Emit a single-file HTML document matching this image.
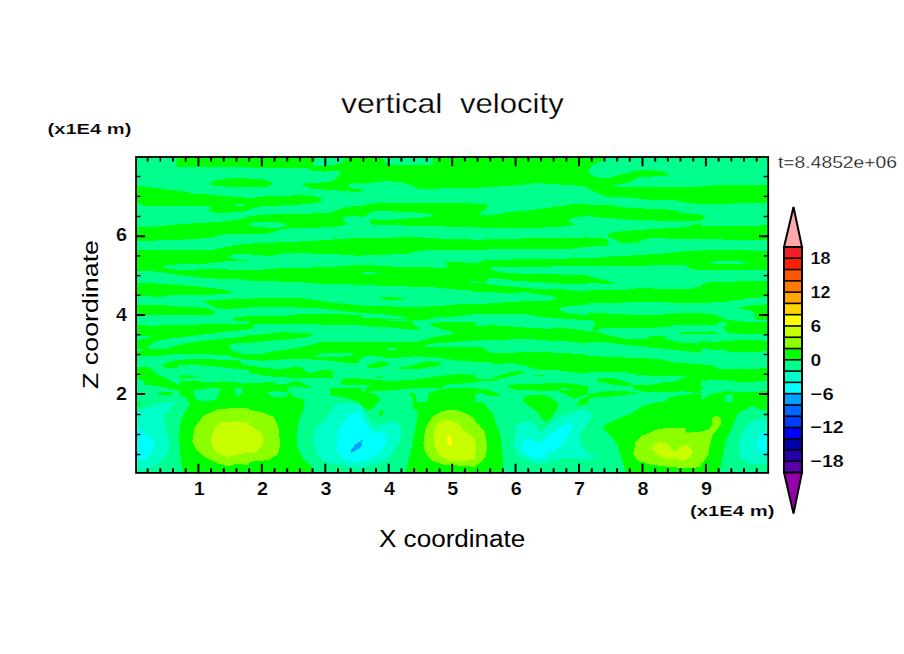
<!DOCTYPE html>
<html><head><meta charset="utf-8"><style>
html,body{margin:0;padding:0;background:#fff;width:904px;height:654px;overflow:hidden}
svg{display:block}
text{font-family:"Liberation Sans",sans-serif;fill:#000}
.lb{font-size:17px;font-weight:bold;stroke:#fff;stroke-width:0.2px}
.ax{font-size:18px;font-weight:bold;stroke:#fff;stroke-width:0.2px}
</style></head><body>
<svg width="904" height="654" viewBox="0 0 904 654">
<rect x="0" y="0" width="904" height="654" fill="#fff"/>
<g id="field">
<rect x="136" y="157" width="632" height="316" fill="#00ff8c"/>
<!--FIELD--><defs><clipPath id="cA"><rect x="137" y="158" width="112" height="80"/></clipPath><clipPath id="cB"><rect x="249" y="158" width="113" height="80"/></clipPath><clipPath id="cC"><rect x="362" y="158" width="113" height="80"/></clipPath><clipPath id="cD"><rect x="475" y="158" width="113" height="80"/></clipPath><clipPath id="cE"><rect x="588" y="158" width="113" height="80"/></clipPath><clipPath id="cF"><rect x="701" y="158" width="66.5" height="80"/></clipPath><clipPath id="cG"><rect x="137" y="238" width="112" height="82"/></clipPath><clipPath id="cH"><rect x="249" y="238" width="113" height="82"/></clipPath><clipPath id="cI"><rect x="362" y="238" width="113" height="82"/></clipPath><clipPath id="cJ"><rect x="475" y="238" width="113" height="82"/></clipPath><clipPath id="cK"><rect x="588" y="238" width="113" height="82"/></clipPath><clipPath id="cL"><rect x="701" y="238" width="66.5" height="82"/></clipPath><clipPath id="cM"><rect x="137" y="320" width="112" height="82"/></clipPath><clipPath id="cN"><rect x="249" y="320" width="113" height="82"/></clipPath><clipPath id="cO"><rect x="362" y="320" width="113" height="82"/></clipPath><clipPath id="cP"><rect x="475" y="320" width="113" height="82"/></clipPath><clipPath id="cQ"><rect x="588" y="320" width="113" height="82"/></clipPath><clipPath id="cR"><rect x="701" y="320" width="66.5" height="82"/></clipPath><clipPath id="cS"><rect x="137" y="402" width="112" height="70.5"/></clipPath><clipPath id="cT"><rect x="249" y="402" width="113" height="70.5"/></clipPath><clipPath id="cU"><rect x="362" y="402" width="113" height="70.5"/></clipPath><clipPath id="cV"><rect x="475" y="402" width="113" height="70.5"/></clipPath><clipPath id="cW"><rect x="588" y="402" width="113" height="70.5"/></clipPath><clipPath id="cX"><rect x="701" y="402" width="66.5" height="70.5"/></clipPath><clipPath id="cp1"><rect x="180" y="378" width="150" height="24"/></clipPath></defs>
<g clip-path="url(#cA)" shape-rendering="crispEdges"><rect x="137" y="158" width="112" height="80" fill="#00ff8c"/><g transform="translate(136,156) scale(0.125)"><polygon fill="#00ff00" points="330,15 320,70 330,92 600,90 910,92 910,-10 330,-10"/><polygon fill="#00ff00" points="590,215 620,200 700,185 780,175 910,178 910,250 800,248 660,240 600,230"/><polygon fill="#00ff00" points="-10,235 100,248 250,270 380,280 450,300 600,310 750,325 910,335 910,430 880,440 800,450 650,455 570,440 600,420 600,405 500,400 300,402 70,403 30,385 -10,365"/><polygon fill="#00ff8c" points="795,385 865,382 870,395 800,400"/><polygon fill="#00ff00" points="-10,565 150,565 300,550 450,540 600,530 750,520 850,500 910,485 910,620 700,628 560,660 -10,660"/></g></g>
<g clip-path="url(#cB)" shape-rendering="crispEdges"><rect x="249" y="158" width="113" height="80" fill="#00ff8c"/><g transform="translate(249,156) scale(0.125)"><polygon fill="#00ff00" points="-10,-10 910,-10 910,215 880,215 800,225 790,240 830,260 910,265 910,290 820,285 700,275 600,270 500,260 420,230 450,220 560,215 650,205 700,180 740,130 720,120 600,125 500,115 460,95 300,95 -10,95"/><polygon fill="#00ff8c" points="540,15 770,15 760,40 720,65 650,75 600,80 520,85 515,70"/><polygon fill="#00ff00" points="-10,180 100,185 160,200 195,220 160,240 100,250 -10,250"/><polygon fill="#00ff00" points="-10,340 100,325 250,320 430,312 520,318 570,335 590,350 560,370 450,385 300,395 120,400 -10,425"/><polygon fill="#00ff00" points="-10,485 100,470 300,462 500,460 650,455 750,415 850,400 910,400 910,485 800,480 745,495 760,530 790,545 700,565 500,575 300,580 240,590 200,605 150,620 -10,620"/><polygon fill="#00ff8c" points="-10,545 50,530 150,528 280,535 300,555 280,570 200,575 100,570 -10,560"/></g></g>
<g clip-path="url(#cC)" shape-rendering="crispEdges"><rect x="362" y="158" width="113" height="80" fill="#00ff00"/><g transform="translate(362,156) scale(0.125)"><polygon fill="#00ff8c" points="-10,225 100,210 200,200 300,210 400,235 450,260 620,260 800,255 910,255 910,380 600,378 300,375 100,378 30,390 -10,400"/><polygon fill="#00ff8c" points="170,15 565,15 565,75 350,75 220,70 190,55 170,30"/><polygon fill="#00ff8c" points="-10,485 30,485 50,460 100,440 300,445 500,455 580,475 530,490 400,495 200,515 80,505 60,530 100,555 300,555 500,560 700,565 910,565 910,660 -10,660"/><polygon fill="#00ff00" points="250,660 260,645 480,645 490,660"/></g></g>
<g clip-path="url(#cD)" shape-rendering="crispEdges"><rect x="475" y="158" width="113" height="80" fill="#00ff00"/><g transform="translate(475,156) scale(0.125)"><polygon fill="#00ff8c" points="-10,255 100,250 250,240 380,232 480,215 600,225 750,230 850,240 910,250 910,380 780,385 650,405 500,425 400,440 250,450 150,475 25,470 60,440 100,420 95,385 -10,380"/><polygon fill="#00ff8c" points="910,480 800,490 740,515 800,550 910,545"/><polygon fill="#00ff8c" points="-10,570 100,578 300,580 500,575 700,565 800,550 910,545 910,660 -10,660"/><polygon fill="#00ff00" points="870,660 875,645 910,645 910,660"/></g></g>
<g clip-path="url(#cE)" shape-rendering="crispEdges"><rect x="588" y="158" width="113" height="80" fill="#00ff00"/><g transform="translate(588,156) scale(0.125)"><polygon fill="#00ff8c" points="130,15 910,15 910,245 500,245 300,250 210,250 210,235 330,210 400,170 600,160 655,150 600,125 470,112 380,120 250,150 170,175 100,180 15,150 10,110 40,70 100,45"/><polygon fill="#00ff8c" points="-10,255 50,285 150,325 300,330 500,350 700,355 800,375 910,388 910,468 750,453 700,438 600,423 350,418 160,393 -10,390"/><polygon fill="#00ff8c" points="-10,478 100,493 380,513 630,518 910,518 910,538 830,553 800,568 480,586 250,603 165,620 160,660 -10,660"/></g></g>
<g clip-path="url(#cF)" shape-rendering="crispEdges"><rect x="701" y="158" width="66.5" height="80" fill="#00ff8c"/><g transform="translate(701,156) scale(0.125)"><polygon fill="#00ff00" points="-10,245 200,230 530,228 530,380 300,378 150,385 -10,388"/><polygon fill="#00ff00" points="-10,470 40,490 -10,515"/><polygon fill="#00ff00" points="-10,565 200,560 530,555 530,660 -10,660"/></g></g>
<g clip-path="url(#cG)" shape-rendering="crispEdges"><rect x="137" y="238" width="112" height="82" fill="#00ff8c"/><g transform="translate(136,238) scale(0.125)"><polygon fill="#00ff00" points="-10,-10 530,-10 520,5 450,10 300,15 170,20 -10,22"/><polygon fill="#00ff00" points="-10,100 200,98 400,100 600,98 700,75 800,55 910,45 910,125 780,130 745,150 780,170 885,180 910,180 700,188 600,200 500,212 350,210 210,222 230,240 330,255 600,250 910,255 910,335 800,330 650,325 500,315 300,290 180,270 100,265 -10,268"/><polygon fill="#00ff00" points="-10,360 200,365 350,375 500,390 700,410 780,440 700,450 500,455 300,455 200,470 -10,465"/><polygon fill="#00ff00" points="-10,535 250,538 350,550 550,558 610,575 630,600 610,618 400,615 -10,612"/><polygon fill="#00ff00" points="525,510 600,495 800,490 910,485 910,560 780,565 680,570 630,555 560,520"/><polygon fill="#00ff00" points="770,660 800,632 910,625 910,660"/></g></g>
<g clip-path="url(#cH)" shape-rendering="crispEdges"><rect x="249" y="238" width="113" height="82" fill="#00ff8c"/><g transform="translate(249,238) scale(0.125)"><polygon fill="#00ff00" points="-10,45 90,42 290,32 490,25 620,15 800,5 800,-10 910,-10 910,145 850,140 700,130 540,125 290,120 180,140 110,140 -10,130"/><polygon fill="#00ff00" points="-10,255 130,252 270,240 650,233 780,222 910,212 910,375 770,370 540,365 440,355 290,350 -10,340"/><polygon fill="#00ff00" points="-10,485 200,480 430,482 520,495 650,515 800,530 910,540 910,600 800,590 700,578 600,565 370,555 200,550 -10,555"/><polygon fill="#00ff00" points="-10,625 90,628 260,625 400,610 600,605 800,612 910,620 910,660 -10,660"/></g></g>
<g clip-path="url(#cI)" shape-rendering="crispEdges"><rect x="362" y="238" width="113" height="82" fill="#00ff00"/><g transform="translate(362,238) scale(0.125)"><polygon fill="#00ff8c" points="605,-10 910,-10 910,15 840,10 610,5"/><polygon fill="#00ff8c" points="-10,140 100,138 220,130 370,125 430,105 550,98 910,95 910,200 800,195 680,195 670,210 700,240 620,242 530,232 300,235 200,225 -10,215"/><polygon fill="#00ff8c" points="-10,270 70,272 160,288 120,292 -10,290"/><polygon fill="#00ff8c" points="-10,375 250,385 550,392 630,400 850,420 910,428 910,525 780,528 620,545 400,552 140,545 -10,540"/><polygon fill="#00ff00" points="135,480 180,470 270,475 330,485 320,492 180,492"/><polygon fill="#00ff8c" points="860,345 910,340 910,365 880,360"/><polygon fill="#00ff8c" points="-10,600 150,608 250,620 350,632 360,645 200,645 -10,640"/><polygon fill="#00ff8c" points="480,660 600,635 780,625 910,605 910,660"/></g></g>
<g clip-path="url(#cJ)" shape-rendering="crispEdges"><rect x="475" y="238" width="113" height="82" fill="#00ff00"/><g transform="translate(475,238) scale(0.125)"><polygon fill="#00ff8c" points="-10,-10 460,-10 460,2 200,8 -10,15"/><polygon fill="#00ff8c" points="-10,95 180,90 500,88 780,85 870,72 910,70 910,160 870,160 700,165 415,168 200,175 70,178 30,195 -10,200"/><polygon fill="#00ff8c" points="120,242 150,232 300,235 420,233 600,228 820,225 910,220 910,300 870,298 670,292 360,285 210,275 150,260"/><polygon fill="#00ff8c" points="-10,345 30,352 60,355 -10,365"/><polygon fill="#00ff8c" points="70,355 120,320 200,325 300,340 460,350 600,360 780,370 910,372 910,420 790,420 700,410 460,405 360,395 200,380 110,370"/><polygon fill="#00ff8c" points="-10,430 100,432 250,440 400,435 500,450 600,460 660,480 600,500 530,505 400,505 230,515 100,525 30,530 -10,530"/><polygon fill="#00ff8c" points="670,570 700,550 820,540 910,530 910,615 790,610 720,600"/><polygon fill="#00ff8c" points="-10,612 384,607 512,629 598,639 704,645 852,655 910,660 -10,660"/></g></g>
<g clip-path="url(#cK)" shape-rendering="crispEdges"><rect x="588" y="238" width="113" height="82" fill="#00ff8c"/><g transform="translate(588,238) scale(0.125)"><polygon fill="#00ff00" points="-10,-10 120,-10 160,20 165,50 140,60 50,65 -10,72"/><polygon fill="#00ff00" points="200,-10 500,-10 490,5 430,15 400,38 270,38 230,20 205,5"/><polygon fill="#00ff00" points="630,-10 910,-10 910,8 630,8"/><polygon fill="#00ff00" points="-10,160 120,155 200,145 420,138 500,130 650,120 720,112 800,102 910,100 910,255 830,250 790,230 780,215 680,215 500,220 -10,222"/><polygon fill="#00ff00" points="-10,300 40,315 140,340 200,360 190,372 120,370 60,360 -10,355"/><polygon fill="#00ff00" points="-10,420 270,418 380,405 420,398 500,400 550,410 830,408 855,392 910,390 910,520 780,518 400,512 170,520 -10,520"/><polygon fill="#00ff00" points="-10,605 100,600 170,605 300,610 350,620 550,618 650,605 910,600 910,660 -10,660"/></g></g>
<g clip-path="url(#cL)" shape-rendering="crispEdges"><rect x="701" y="238" width="66.5" height="82" fill="#00ff8c"/><g transform="translate(701,238) scale(0.125)"><polygon fill="#00ff00" points="-10,-10 530,-10 530,15 180,12 -10,8"/><polygon fill="#00ff00" points="-10,95 200,98 380,100 530,105 530,255 -10,255"/><polygon fill="#00ff8c" points="60,195 150,180 330,185 380,195 330,205 100,205"/><polygon fill="#00ff00" points="-10,380 50,355 200,350 400,345 530,340 530,470 400,478 300,495 200,510 -10,520"/><polygon fill="#00ff00" points="310,555 400,540 530,530 530,660 440,660 430,600 380,575 320,570"/><polygon fill="#00ff00" points="-10,600 100,610 180,640 210,660 -10,660"/></g></g>
<g clip-path="url(#cM)" shape-rendering="crispEdges"><rect x="137" y="320" width="112" height="82" fill="#00ff8c"/><g transform="translate(136,320) scale(0.125)"><polygon fill="#00ff00" points="-10,40 120,45 400,40 600,32 800,35 910,35 910,75 860,80 700,95 500,120 300,145 150,170 95,215 110,235 220,235 340,200 500,170 700,150 860,135 910,115 910,185 850,185 760,190 740,215 770,245 850,270 910,280 910,320 800,305 750,285 600,275 350,270 200,285 -10,290 -10,255 40,250 50,236 -10,232 -10,160 90,150 110,130 -10,120"/><polygon fill="#00ff00" points="775,-10 910,-10 910,8 790,5"/><polygon fill="#00ff00" points="210,355 300,325 400,315 600,315 800,320 830,330 850,360 910,365 910,400 800,390 600,370 450,355 345,360 330,385 240,385"/><polygon fill="#00ff00" points="-10,375 100,375 180,440 280,490 380,540 450,570 500,610 520,660 470,660 430,580 300,560 160,525 60,520 60,480 -10,470"/><polygon fill="#00ff00" points="345,455 380,440 500,460 600,470 700,475 800,495 780,520 650,540 600,570 560,580 500,560 420,520 350,480"/><polygon fill="#00ff00" points="600,660 650,560 700,550 760,620 800,560 850,560 910,540 910,660"/><polygon fill="#00ff00" points="180,580 280,575 290,600 180,600"/></g></g>
<g clip-path="url(#cN)" shape-rendering="crispEdges"><rect x="249" y="320" width="113" height="82" fill="#00ff8c"/><g transform="translate(249,320) scale(0.125)"><polygon fill="#00ff00" points="-10,-10 910,-10 910,40 490,35 60,30 30,28 50,55 -10,75"/><polygon fill="#00ff00" points="-10,120 110,115 270,98 480,105 510,125 450,140 300,155 120,170 -10,185"/><polygon fill="#00ff00" points="-10,270 90,272 200,250 400,220 570,180 700,175 910,175 910,300 880,310 880,345 800,345 650,325 500,315 300,312 120,325 -10,320"/><polygon fill="#00ff8c" points="520,290 600,262 800,262 845,275 800,290 700,295 600,300"/><polygon fill="#00ff00" points="-10,360 60,375 240,395 350,378 420,380 470,430 600,395 690,410 660,440 680,460 580,500 540,520 500,560 490,600 420,590 400,550 430,520 480,465 300,460 150,450 50,430 -10,425"/><polygon fill="#00ff00" points="-10,500 100,510 150,540 250,520 290,530 300,560 230,580 130,590 -10,560"/><polygon fill="#00ff00" points="-10,580 130,585 230,600 260,660 -10,660"/><polygon fill="#00ff00" points="230,660 320,560 370,560 440,660"/><polygon fill="#00ff00" points="730,480 800,465 910,470 910,520 760,520 740,510"/><polygon fill="#00ff00" points="600,570 650,545 910,540 910,660 880,660 800,630 650,600"/></g></g>
<g clip-path="url(#cO)" shape-rendering="crispEdges"><rect x="362" y="320" width="113" height="82" fill="#00ff8c"/><g transform="translate(362,320) scale(0.125)"><polygon fill="#00ff00" points="-10,-10 200,-10 210,5 420,10 410,40 450,55 455,78 400,78 300,68 200,55 -10,50"/><polygon fill="#00ff00" points="-10,175 430,175 500,160 600,130 700,118 735,108 700,90 600,62 545,45 560,25 640,18 910,20 910,165 800,170 700,180 590,185 500,200 490,212 600,215 800,218 910,215 910,335 800,328 600,300 420,290 300,300 200,305 100,285 -10,295"/><polygon fill="#00ff8c" points="190,235 220,225 300,225 250,240 200,245"/><polygon fill="#00ff00" points="40,360 100,345 150,328 210,345 215,360 130,385 50,380"/><polygon fill="#00ff00" points="280,385 420,360 520,330 640,340 600,370 420,395 300,395"/><polygon fill="#00ff00" points="100,455 150,450 160,460 100,462"/><polygon fill="#00ff00" points="-10,470 80,475 230,490 400,478 610,450 770,430 910,445 910,505 850,505 680,515 640,540 450,545 250,560 100,570 25,575 20,550 70,520 -10,520"/><polygon fill="#00ff00" points="-10,570 100,590 150,630 140,660 -10,660"/><polygon fill="#00ff00" points="520,660 530,590 600,560 700,545 850,545 910,540 910,660"/><polygon fill="#00ff00" points="380,600 400,580 430,600 440,660 410,660 400,620"/></g></g>
<g clip-path="url(#cP)" shape-rendering="crispEdges"><rect x="475" y="320" width="113" height="82" fill="#00ff8c"/><g transform="translate(475,320) scale(0.125)"><polygon fill="#00ff00" points="-10,50 80,45 130,40 400,60 570,70 700,65 860,80 910,95 910,185 850,185 740,170 600,165 460,155 300,155 -10,165"/><polygon fill="#00ff00" points="-10,215 50,215 130,262 290,268 360,255 700,262 850,275 910,278 910,420 800,420 640,400 480,395 420,370 300,345 160,355 130,340 -10,335"/><polygon fill="#00ff00" points="-10,455 30,468 130,470 170,450 290,415 380,405 390,420 330,440 200,470 130,490 30,492 -10,495"/><polygon fill="#00ff00" points="455,450 500,438 565,440 520,452"/><polygon fill="#00ff00" points="255,525 340,512 550,510 600,500 800,510 910,535 910,590 800,630 700,585 660,560 600,570 300,555"/><polygon fill="#00ff8c" points="670,555 720,545 770,555 720,565"/><polygon fill="#00ff00" points="-10,545 40,550 100,560 170,580 200,605 100,605 50,580 -10,600"/><polygon fill="#00ff00" points="380,660 390,620 430,600 550,598 620,630 660,660"/><polygon fill="#00ff00" points="820,660 850,630 910,610 910,660"/></g></g>
<g clip-path="url(#cQ)" shape-rendering="crispEdges"><rect x="588" y="320" width="113" height="82" fill="#00ff8c"/><g transform="translate(588,320) scale(0.125)"><polygon fill="#00ff00" points="35,-10 910,-10 910,38 700,40 630,55 440,68 320,65 120,65 50,90 35,95 40,60 60,40"/><polygon fill="#00ff00" points="-10,95 50,90 100,105 200,130 320,155 450,150 530,125 610,125 620,150 730,180 910,180 910,262 800,250 700,240 500,220 280,195 120,178 -10,180"/><polygon fill="#00ff00" points="730,105 770,95 910,100 910,115 760,115"/><polygon fill="#00ff00" points="-10,285 150,295 300,300 540,310 700,340 910,355 910,495 880,500 830,480 780,450 700,445 500,445 400,440 300,420 150,415 -10,415"/><polygon fill="#00ff00" points="70,475 130,462 220,470 350,510 340,530 220,520 80,495"/><polygon fill="#00ff00" points="350,520 500,520 600,500 700,490 780,455 830,480 880,500 910,495 910,590 750,570 600,580 450,575 370,555"/><polygon fill="#00ff00" points="-10,600 100,575 250,565 400,580 300,600 150,615 40,620 -10,640"/><polygon fill="#00ff00" points="600,660 650,620 750,600 880,590 910,590 910,660"/></g></g>
<g clip-path="url(#cR)" shape-rendering="crispEdges"><rect x="701" y="320" width="66.5" height="82" fill="#00ff8c"/><g transform="translate(701,320) scale(0.125)"><polygon fill="#00ff00" points="-10,-10 216,-10 216,0 380,18 530,20 530,110 400,112 209,105 180,60 209,38 209,13 150,13 130,38 -10,38"/><polygon fill="#00ff00" points="-10,96 124,96 135,104 124,112 -10,112"/><polygon fill="#00ff00" points="-10,165 100,175 300,160 530,165 530,250 300,260 200,250 170,235 100,240 30,225 -10,240"/><polygon fill="#00ff00" points="-10,360 100,365 140,395 300,395 530,385 530,490 300,495 200,480 100,480 -10,490"/><polygon fill="#00ff00" points="-10,540 40,535 -10,555"/><polygon fill="#00ff00" points="40,620 80,590 200,570 400,580 530,565 530,660 -10,660 -10,640"/><polygon fill="#00ff8c" points="190,600 250,595 260,660 200,660"/></g></g>
<g clip-path="url(#cS)" shape-rendering="crispEdges"><rect x="137" y="402" width="112" height="70.5" fill="#00ff8c"/><g transform="translate(136,402) scale(0.125)"><polygon fill="#00ffc8" points="-10,65 40,60 110,35 200,15 270,-5 300,-10 300,20 260,70 225,110 240,200 270,310 260,400 210,470 150,510 70,540 -10,548"/><polygon fill="#00ffff" points="-10,195 50,240 120,280 150,330 130,400 90,450 30,460 -10,465"/><polygon fill="#00ff00" points="440,-10 910,-10 910,560 375,560 350,400 345,250 360,140 400,70"/><polygon fill="#00ff00" points="-10,-10 30,-10 30,20 -10,30"/><polygon fill="#8cff00" points="450,320 470,200 540,110 650,60 800,45 910,50 910,505 800,495 740,515 650,490 550,440 480,380"/><polygon fill="#c8ff00" points="600,310 630,200 690,160 800,155 910,160 910,400 800,425 730,440 650,410 610,360"/></g></g>
<g clip-path="url(#cT)" shape-rendering="crispEdges"><rect x="249" y="402" width="113" height="70.5" fill="#00ff00"/><g transform="translate(249,402) scale(0.125)"><polygon fill="#8cff00" points="-10,60 100,80 200,120 235,200 250,340 230,420 150,465 -10,480"/><polygon fill="#c8ff00" points="-10,175 60,220 110,270 110,340 60,400 -10,415"/><polygon fill="#00ff8c" points="440,-10 910,-10 910,560 520,560 500,520 430,450 390,370 380,260 400,150 440,50"/><polygon fill="#00ff00" points="880,-10 910,-10 910,25 890,20"/><polygon fill="#00ffc8" points="510,300 540,200 600,150 650,80 700,15 800,10 910,25 910,525 800,520 700,500 600,480 550,430"/><polygon fill="#00ffff" points="700,330 720,200 800,100 850,80 910,75 910,475 830,485 760,460 710,400"/><polygon fill="#00a0ff" points="815,380 850,340 910,300 910,345 860,385 820,405"/></g></g>
<g clip-path="url(#cU)" shape-rendering="crispEdges"><rect x="362" y="402" width="113" height="70.5" fill="#00ff00"/><g transform="translate(362,402) scale(0.125)"><polygon fill="#00ff8c" points="-10,30 60,70 100,40 130,-10 410,-10 400,30 445,80 440,150 420,250 400,350 375,450 350,560 -10,560"/><polygon fill="#00ff00" points="135,80 160,65 175,80 160,115 135,110"/><polygon fill="#00ffc8" points="-10,40 30,90 60,140 100,190 180,170 240,150 300,180 320,240 300,320 250,400 200,460 100,500 -10,520"/><polygon fill="#00ffff" points="-10,120 40,190 100,250 170,240 205,270 200,330 150,400 80,450 -10,470"/><polygon fill="#00a0ff" points="-10,300 10,305 -10,340"/><polygon fill="#8cff00" points="490,330 510,200 570,110 650,70 750,60 850,100 910,140 910,520 800,510 650,500 560,470 510,420"/><polygon fill="#c8ff00" points="575,250 600,170 660,140 760,165 820,230 910,300 910,450 800,475 700,470 620,430 580,350"/><polygon fill="#ffff00" points="680,280 700,265 720,300 725,350 700,355 680,330"/></g></g>
<g clip-path="url(#cV)" shape-rendering="crispEdges"><rect x="475" y="402" width="113" height="70.5" fill="#00ff8c"/><g transform="translate(475,402) scale(0.125)"><polygon fill="#00ff00" points="-10,-10 50,-10 140,90 160,150 200,250 215,350 230,560 -10,560"/><polygon fill="#8cff00" points="-10,150 30,180 80,240 95,330 90,430 50,480 -10,520"/><polygon fill="#c8ff00" points="-10,330 10,340 10,400 -10,410"/><polygon fill="#00ff00" points="380,-10 660,-10 660,50 620,110 570,160 540,140 500,80 430,30"/><polygon fill="#00ff00" points="810,20 830,-10 910,-10 910,10 850,25"/><polygon fill="#00ffc8" points="306,350 328,191 360,164 444,154 487,180 508,244 550,222 678,117 816,74 838,63 890,63 922,106 901,170 848,244 838,308 858,361 922,414 922,460 731,446 518,499 359,446"/><polygon fill="#00ffff" points="370,350 391,308 444,292 508,339 604,254 678,202 774,159 774,222 731,308 646,382 562,414 572,446 466,446 391,403"/></g></g>
<g clip-path="url(#cW)" shape-rendering="crispEdges"><rect x="588" y="402" width="113" height="70.5" fill="#00ff8c"/><g transform="translate(588,402) scale(0.125)"><polygon fill="#00ff00" points="580,-10 910,-10 910,560 300,560 270,450 230,330 180,270 115,210 150,170 250,130 350,90 430,35 530,10"/><polygon fill="#8cff00" points="360,420 380,320 430,270 550,220 650,205 780,210 790,245 910,238 910,520 800,530 650,520 500,500 400,470"/><polygon fill="#c8ff00" points="510,370 540,330 590,318 650,350 690,405 740,350 800,345 840,390 820,440 760,475 700,450 650,460 560,430"/><polygon fill="#00ffc8" points="-10,70 20,90 20,130 -10,150"/><polygon fill="#00ffc8" points="-10,420 60,440 50,455 -10,450"/></g></g>
<g clip-path="url(#cX)" shape-rendering="crispEdges"><rect x="701" y="402" width="66.5" height="70.5" fill="#00ff00"/><g transform="translate(701,402) scale(0.125)"><polygon fill="#8cff00" points="-10,240 60,220 90,180 90,130 120,110 160,130 165,170 130,220 90,270 70,350 60,420 20,480 -10,500"/><polygon fill="#00ff8c" points="150,560 170,450 200,300 240,220 290,100 350,60 420,30 470,60 530,70 530,560"/><polygon fill="#00ffc8" points="300,400 310,300 350,200 400,160 500,130 530,130 530,500 400,495 320,460"/><polygon fill="#00ffff" points="440,340 460,280 500,240 530,230 530,420 480,400 450,380"/></g></g>
<g clip-path="url(#cp1)" shape-rendering="crispEdges"><rect x="180" y="378" width="150" height="24" fill="#00ff00"/><g transform="translate(180,378) scale(0.165929)"><polygon fill="#00ff8c" points="0,-5 904,-5 904,60 870,70 790,60 740,30 700,20 640,35 600,40 550,25 450,30 370,35 345,25 260,20 170,28 110,20 50,15 0,20"/><polygon fill="#00ff8c" points="80,70 120,75 170,60 240,62 235,100 215,130 180,140 120,140 90,120"/><polygon fill="#00ff8c" points="330,60 370,60 380,85 350,110 330,90"/><polygon fill="#00ff8c" points="520,85 580,80 650,85 640,115 560,115"/><polygon fill="#00ff8c" points="640,60 700,50 760,60 750,130 700,120 660,90"/><polygon fill="#00ff8c" points="760,60 790,60 870,70 904,60 904,150 750,150 750,130"/><polygon fill="#00ff8c" points="-5,110 40,115 40,150 -5,150"/></g></g><!--/FIELD-->
</g>
<g stroke="#000" stroke-width="1.8" fill="none">
<rect x="136.05" y="157" width="632.15" height="315.9"/>
<g stroke-width="1.4"><line x1="136" y1="454.5" x2="140.60" y2="454.5"/>
<line x1="768.2" y1="454.5" x2="763.60" y2="454.5"/>
<line x1="136" y1="434.5" x2="140.60" y2="434.5"/>
<line x1="768.2" y1="434.5" x2="763.60" y2="434.5"/>
<line x1="136" y1="414.5" x2="140.60" y2="414.5"/>
<line x1="768.2" y1="414.5" x2="763.60" y2="414.5"/>
<line x1="136" y1="394.0" x2="145.20" y2="394.0" stroke-width="2"/>
<line x1="768.2" y1="394.0" x2="759.00" y2="394.0" stroke-width="2"/>
<line x1="136" y1="374.25" x2="140.60" y2="374.25"/>
<line x1="768.2" y1="374.25" x2="763.60" y2="374.25"/>
<line x1="136" y1="354.5" x2="140.60" y2="354.5"/>
<line x1="768.2" y1="354.5" x2="763.60" y2="354.5"/>
<line x1="136" y1="334.75" x2="140.60" y2="334.75"/>
<line x1="768.2" y1="334.75" x2="763.60" y2="334.75"/>
<line x1="136" y1="315.0" x2="145.20" y2="315.0" stroke-width="2"/>
<line x1="768.2" y1="315.0" x2="759.00" y2="315.0" stroke-width="2"/>
<line x1="136" y1="295.3" x2="140.60" y2="295.3"/>
<line x1="768.2" y1="295.3" x2="763.60" y2="295.3"/>
<line x1="136" y1="275.6" x2="140.60" y2="275.6"/>
<line x1="768.2" y1="275.6" x2="763.60" y2="275.6"/>
<line x1="136" y1="255.9" x2="140.60" y2="255.9"/>
<line x1="768.2" y1="255.9" x2="763.60" y2="255.9"/>
<line x1="136" y1="236.25" x2="145.20" y2="236.25" stroke-width="2"/>
<line x1="768.2" y1="236.25" x2="759.00" y2="236.25" stroke-width="2"/>
<line x1="136" y1="216.5" x2="140.60" y2="216.5"/>
<line x1="768.2" y1="216.5" x2="763.60" y2="216.5"/>
<line x1="136" y1="196.4" x2="140.60" y2="196.4"/>
<line x1="768.2" y1="196.4" x2="763.60" y2="196.4"/>
<line x1="136" y1="176.5" x2="140.60" y2="176.5"/>
<line x1="768.2" y1="176.5" x2="763.60" y2="176.5"/>
<line x1="147.65" y1="472.9" x2="147.65" y2="468.30" stroke-width="2"/>
<line x1="147.65" y1="157" x2="147.65" y2="161.60" stroke-width="2"/>
<line x1="160.34" y1="472.9" x2="160.34" y2="468.30" stroke-width="2"/>
<line x1="160.34" y1="157" x2="160.34" y2="161.60"/>
<line x1="173.02" y1="472.9" x2="173.02" y2="468.30" stroke-width="2"/>
<line x1="173.02" y1="157" x2="173.02" y2="161.60" stroke-width="2"/>
<line x1="185.71" y1="472.9" x2="185.71" y2="468.30" stroke-width="2"/>
<line x1="185.71" y1="157" x2="185.71" y2="161.60" stroke-width="2"/>
<line x1="198.40" y1="472.9" x2="198.40" y2="463.70" stroke-width="2"/>
<line x1="198.40" y1="157" x2="198.40" y2="166.20" stroke-width="2"/>
<line x1="211.09" y1="472.9" x2="211.09" y2="468.30" stroke-width="2"/>
<line x1="211.09" y1="157" x2="211.09" y2="161.60" stroke-width="2"/>
<line x1="223.78" y1="472.9" x2="223.78" y2="468.30" stroke-width="2"/>
<line x1="223.78" y1="157" x2="223.78" y2="161.60" stroke-width="2"/>
<line x1="236.46" y1="472.9" x2="236.46" y2="468.30" stroke-width="2"/>
<line x1="236.46" y1="157" x2="236.46" y2="161.60" stroke-width="2"/>
<line x1="249.15" y1="472.9" x2="249.15" y2="468.30" stroke-width="2"/>
<line x1="249.15" y1="157" x2="249.15" y2="161.60" stroke-width="2"/>
<line x1="261.84" y1="472.9" x2="261.84" y2="463.70" stroke-width="2"/>
<line x1="261.84" y1="157" x2="261.84" y2="166.20" stroke-width="2"/>
<line x1="274.53" y1="472.9" x2="274.53" y2="468.30" stroke-width="2"/>
<line x1="274.53" y1="157" x2="274.53" y2="161.60" stroke-width="2"/>
<line x1="287.22" y1="472.9" x2="287.22" y2="468.30" stroke-width="2"/>
<line x1="287.22" y1="157" x2="287.22" y2="161.60" stroke-width="2"/>
<line x1="299.90" y1="472.9" x2="299.90" y2="468.30" stroke-width="2"/>
<line x1="299.90" y1="157" x2="299.90" y2="161.60" stroke-width="2"/>
<line x1="312.59" y1="472.9" x2="312.59" y2="468.30" stroke-width="2"/>
<line x1="312.59" y1="157" x2="312.59" y2="161.60" stroke-width="2"/>
<line x1="325.28" y1="472.9" x2="325.28" y2="463.70" stroke-width="2"/>
<line x1="325.28" y1="157" x2="325.28" y2="166.20" stroke-width="2"/>
<line x1="337.97" y1="472.9" x2="337.97" y2="468.30" stroke-width="2"/>
<line x1="337.97" y1="157" x2="337.97" y2="161.60" stroke-width="2"/>
<line x1="350.66" y1="472.9" x2="350.66" y2="468.30" stroke-width="2"/>
<line x1="350.66" y1="157" x2="350.66" y2="161.60" stroke-width="2"/>
<line x1="363.34" y1="472.9" x2="363.34" y2="468.30" stroke-width="2"/>
<line x1="363.34" y1="157" x2="363.34" y2="161.60" stroke-width="2"/>
<line x1="376.03" y1="472.9" x2="376.03" y2="468.30" stroke-width="2"/>
<line x1="376.03" y1="157" x2="376.03" y2="161.60" stroke-width="2"/>
<line x1="388.72" y1="472.9" x2="388.72" y2="463.70" stroke-width="2"/>
<line x1="388.72" y1="157" x2="388.72" y2="166.20" stroke-width="2"/>
<line x1="401.41" y1="472.9" x2="401.41" y2="468.30" stroke-width="2"/>
<line x1="401.41" y1="157" x2="401.41" y2="161.60" stroke-width="2"/>
<line x1="414.10" y1="472.9" x2="414.10" y2="468.30" stroke-width="2"/>
<line x1="414.10" y1="157" x2="414.10" y2="161.60" stroke-width="2"/>
<line x1="426.78" y1="472.9" x2="426.78" y2="468.30" stroke-width="2"/>
<line x1="426.78" y1="157" x2="426.78" y2="161.60" stroke-width="2"/>
<line x1="439.47" y1="472.9" x2="439.47" y2="468.30" stroke-width="2"/>
<line x1="439.47" y1="157" x2="439.47" y2="161.60" stroke-width="2"/>
<line x1="452.16" y1="472.9" x2="452.16" y2="463.70" stroke-width="2"/>
<line x1="452.16" y1="157" x2="452.16" y2="166.20" stroke-width="2"/>
<line x1="464.85" y1="472.9" x2="464.85" y2="468.30" stroke-width="2"/>
<line x1="464.85" y1="157" x2="464.85" y2="161.60" stroke-width="2"/>
<line x1="477.54" y1="472.9" x2="477.54" y2="468.30"/>
<line x1="477.54" y1="157" x2="477.54" y2="161.60" stroke-width="2"/>
<line x1="490.22" y1="472.9" x2="490.22" y2="468.30" stroke-width="2"/>
<line x1="490.22" y1="157" x2="490.22" y2="161.60" stroke-width="2"/>
<line x1="502.91" y1="472.9" x2="502.91" y2="468.30" stroke-width="2"/>
<line x1="502.91" y1="157" x2="502.91" y2="161.60" stroke-width="2"/>
<line x1="515.60" y1="472.9" x2="515.60" y2="463.70" stroke-width="2"/>
<line x1="515.60" y1="157" x2="515.60" y2="166.20" stroke-width="2"/>
<line x1="528.29" y1="472.9" x2="528.29" y2="468.30" stroke-width="2"/>
<line x1="528.29" y1="157" x2="528.29" y2="161.60" stroke-width="2"/>
<line x1="540.98" y1="472.9" x2="540.98" y2="468.30" stroke-width="2"/>
<line x1="540.98" y1="157" x2="540.98" y2="161.60" stroke-width="2"/>
<line x1="553.66" y1="472.9" x2="553.66" y2="468.30" stroke-width="2"/>
<line x1="553.66" y1="157" x2="553.66" y2="161.60" stroke-width="2"/>
<line x1="566.35" y1="472.9" x2="566.35" y2="468.30" stroke-width="2"/>
<line x1="566.35" y1="157" x2="566.35" y2="161.60" stroke-width="2"/>
<line x1="579.04" y1="472.9" x2="579.04" y2="463.70" stroke-width="2"/>
<line x1="579.04" y1="157" x2="579.04" y2="166.20" stroke-width="2"/>
<line x1="591.73" y1="472.9" x2="591.73" y2="468.30" stroke-width="2"/>
<line x1="591.73" y1="157" x2="591.73" y2="161.60" stroke-width="2"/>
<line x1="604.42" y1="472.9" x2="604.42" y2="468.30" stroke-width="2"/>
<line x1="604.42" y1="157" x2="604.42" y2="161.60" stroke-width="2"/>
<line x1="617.10" y1="472.9" x2="617.10" y2="468.30" stroke-width="2"/>
<line x1="617.10" y1="157" x2="617.10" y2="161.60" stroke-width="2"/>
<line x1="629.79" y1="472.9" x2="629.79" y2="468.30" stroke-width="2"/>
<line x1="629.79" y1="157" x2="629.79" y2="161.60" stroke-width="2"/>
<line x1="642.48" y1="472.9" x2="642.48" y2="463.70" stroke-width="2"/>
<line x1="642.48" y1="157" x2="642.48" y2="166.20" stroke-width="2"/>
<line x1="655.17" y1="472.9" x2="655.17" y2="468.30" stroke-width="2"/>
<line x1="655.17" y1="157" x2="655.17" y2="161.60" stroke-width="2"/>
<line x1="667.86" y1="472.9" x2="667.86" y2="468.30" stroke-width="2"/>
<line x1="667.86" y1="157" x2="667.86" y2="161.60" stroke-width="2"/>
<line x1="680.54" y1="472.9" x2="680.54" y2="468.30" stroke-width="2"/>
<line x1="680.54" y1="157" x2="680.54" y2="161.60" stroke-width="2"/>
<line x1="693.23" y1="472.9" x2="693.23" y2="468.30" stroke-width="2"/>
<line x1="693.23" y1="157" x2="693.23" y2="161.60" stroke-width="2"/>
<line x1="705.92" y1="472.9" x2="705.92" y2="463.70" stroke-width="2"/>
<line x1="705.92" y1="157" x2="705.92" y2="166.20" stroke-width="2"/>
<line x1="718.61" y1="472.9" x2="718.61" y2="468.30" stroke-width="2"/>
<line x1="718.61" y1="157" x2="718.61" y2="161.60" stroke-width="2"/>
<line x1="731.30" y1="472.9" x2="731.30" y2="468.30" stroke-width="2"/>
<line x1="731.30" y1="157" x2="731.30" y2="161.60" stroke-width="2"/>
<line x1="743.98" y1="472.9" x2="743.98" y2="468.30" stroke-width="2"/>
<line x1="743.98" y1="157" x2="743.98" y2="161.60" stroke-width="2"/>
<line x1="756.67" y1="472.9" x2="756.67" y2="468.30" stroke-width="2"/>
<line x1="756.67" y1="157" x2="756.67" y2="161.60" stroke-width="2"/>
</g>
</g>
<g id="cb">
<rect x="784" y="247.00" width="18" height="11.28" fill="#f01e28"/>
<rect x="784" y="258.28" width="18" height="11.28" fill="#ff1e00"/>
<rect x="784" y="269.56" width="18" height="11.28" fill="#ff5500"/>
<rect x="784" y="280.84" width="18" height="11.28" fill="#ff7800"/>
<rect x="784" y="292.12" width="18" height="11.28" fill="#ffa500"/>
<rect x="784" y="303.40" width="18" height="11.28" fill="#ffd200"/>
<rect x="784" y="314.68" width="18" height="11.28" fill="#ffff00"/>
<rect x="784" y="325.96" width="18" height="11.28" fill="#c8ff00"/>
<rect x="784" y="337.24" width="18" height="11.28" fill="#8cff00"/>
<rect x="784" y="348.52" width="18" height="11.28" fill="#00ff00"/>
<rect x="784" y="359.80" width="18" height="11.28" fill="#00ff8c"/>
<rect x="784" y="371.08" width="18" height="11.28" fill="#00ffc8"/>
<rect x="784" y="382.36" width="18" height="11.28" fill="#00ffff"/>
<rect x="784" y="393.64" width="18" height="11.28" fill="#00a0ff"/>
<rect x="784" y="404.92" width="18" height="11.28" fill="#0064ff"/>
<rect x="784" y="416.20" width="18" height="11.28" fill="#003cff"/>
<rect x="784" y="427.48" width="18" height="11.28" fill="#0000ff"/>
<rect x="784" y="438.76" width="18" height="11.28" fill="#0000aa"/>
<rect x="784" y="450.04" width="18" height="11.28" fill="#2800aa"/>
<rect x="784" y="461.32" width="18" height="11.28" fill="#5a00aa"/>
<line x1="783" y1="247.00" x2="803" y2="247.00" stroke="#000" stroke-width="1.6"/>
<line x1="783" y1="258.28" x2="803" y2="258.28" stroke="#000" stroke-width="1.6"/>
<line x1="783" y1="269.56" x2="803" y2="269.56" stroke="#000" stroke-width="1.6"/>
<line x1="783" y1="280.84" x2="803" y2="280.84" stroke="#000" stroke-width="1.6"/>
<line x1="783" y1="292.12" x2="803" y2="292.12" stroke="#000" stroke-width="1.6"/>
<line x1="783" y1="303.40" x2="803" y2="303.40" stroke="#000" stroke-width="1.6"/>
<line x1="783" y1="314.68" x2="803" y2="314.68" stroke="#000" stroke-width="1.6"/>
<line x1="783" y1="325.96" x2="803" y2="325.96" stroke="#000" stroke-width="1.6"/>
<line x1="783" y1="337.24" x2="803" y2="337.24" stroke="#000" stroke-width="1.6"/>
<line x1="783" y1="348.52" x2="803" y2="348.52" stroke="#000" stroke-width="1.6"/>
<line x1="783" y1="359.80" x2="803" y2="359.80" stroke="#000" stroke-width="1.6"/>
<line x1="783" y1="371.08" x2="803" y2="371.08" stroke="#000" stroke-width="1.6"/>
<line x1="783" y1="382.36" x2="803" y2="382.36" stroke="#000" stroke-width="1.6"/>
<line x1="783" y1="393.64" x2="803" y2="393.64" stroke="#000" stroke-width="1.6"/>
<line x1="783" y1="404.92" x2="803" y2="404.92" stroke="#000" stroke-width="1.6"/>
<line x1="783" y1="416.20" x2="803" y2="416.20" stroke="#000" stroke-width="1.6"/>
<line x1="783" y1="427.48" x2="803" y2="427.48" stroke="#000" stroke-width="1.6"/>
<line x1="783" y1="438.76" x2="803" y2="438.76" stroke="#000" stroke-width="1.6"/>
<line x1="783" y1="450.04" x2="803" y2="450.04" stroke="#000" stroke-width="1.6"/>
<line x1="783" y1="461.32" x2="803" y2="461.32" stroke="#000" stroke-width="1.6"/>
<line x1="783" y1="472.60" x2="803" y2="472.60" stroke="#000" stroke-width="1.6"/>
<line x1="784" y1="247.0" x2="784" y2="472.6" stroke="#000" stroke-width="2"/>
<line x1="802" y1="247.0" x2="802" y2="472.6" stroke="#000" stroke-width="2"/>
<polygon points="784,247 802,247 793.5,207" fill="#ffaaaa" stroke="#000" stroke-width="2" stroke-linejoin="miter"/>
<polygon points="784,472.6 802,472.6 793.5,513.5" fill="#9600aa" stroke="#000" stroke-width="2"/>
<text x="810.5" y="264.3" class="lb" textLength="20" lengthAdjust="spacingAndGlyphs">18</text>
<text x="810.5" y="298.1" class="lb" textLength="20" lengthAdjust="spacingAndGlyphs">12</text>
<text x="810.5" y="331.9" class="lb" textLength="10.7" lengthAdjust="spacingAndGlyphs">6</text>
<text x="810.5" y="365.7" class="lb" textLength="10.7" lengthAdjust="spacingAndGlyphs">0</text>
<text x="810.5" y="399.5" class="lb" textLength="23.2" lengthAdjust="spacingAndGlyphs">−6</text>
<text x="810.5" y="433.3" class="lb" textLength="33.2" lengthAdjust="spacingAndGlyphs">−12</text>
<text x="810.5" y="467.1" class="lb" textLength="33.2" lengthAdjust="spacingAndGlyphs">−18</text>
</g>
<text x="341" y="113" font-size="28.5" stroke="#fff" stroke-width="0.25" textLength="101.5" lengthAdjust="spacingAndGlyphs">vertical</text><text x="460" y="113" font-size="28.5" stroke="#fff" stroke-width="0.25" textLength="103.7" lengthAdjust="spacingAndGlyphs">velocity</text>
<text x="47.5" y="133.8" font-size="15" font-weight="bold" stroke="#fff" stroke-width="0.15" textLength="84" lengthAdjust="spacingAndGlyphs">(x1E4 m)</text>
<text x="690" y="516.2" font-size="15" font-weight="bold" stroke="#fff" stroke-width="0.15" textLength="84.5" lengthAdjust="spacingAndGlyphs">(x1E4 m)</text>
<text x="778" y="168.3" font-size="16.2" stroke="#fff" stroke-width="0.3" textLength="119" lengthAdjust="spacingAndGlyphs">t=8.4852e+06</text>
<text x="379" y="546.6" font-size="23" textLength="146.3" lengthAdjust="spacingAndGlyphs">X coordinate</text>
<text transform="translate(98.3,389) rotate(-90)" x="0" y="0" font-size="22.5" textLength="149" lengthAdjust="spacingAndGlyphs">Z coordinate</text>
<g class="ax" text-anchor="middle">
<text x="199.2" y="494.8" textLength="11" lengthAdjust="spacingAndGlyphs">1</text><text x="262.6" y="494.8" textLength="11" lengthAdjust="spacingAndGlyphs">2</text><text x="326.0" y="494.8" textLength="11" lengthAdjust="spacingAndGlyphs">3</text>
<text x="389.4" y="494.8" textLength="11" lengthAdjust="spacingAndGlyphs">4</text><text x="452.8" y="494.8" textLength="11" lengthAdjust="spacingAndGlyphs">5</text><text x="516.2" y="494.8" textLength="11" lengthAdjust="spacingAndGlyphs">6</text>
<text x="579.6" y="494.8" textLength="11" lengthAdjust="spacingAndGlyphs">7</text><text x="643.0" y="494.8" textLength="11" lengthAdjust="spacingAndGlyphs">8</text><text x="706.4" y="494.8" textLength="11" lengthAdjust="spacingAndGlyphs">9</text>
</g>
<g class="ax" text-anchor="end">
<text x="127" y="400" textLength="11" lengthAdjust="spacingAndGlyphs">2</text><text x="127" y="320.8" textLength="11" lengthAdjust="spacingAndGlyphs">4</text><text x="127" y="241" textLength="11" lengthAdjust="spacingAndGlyphs">6</text>
</g>
</svg>
</body></html>
